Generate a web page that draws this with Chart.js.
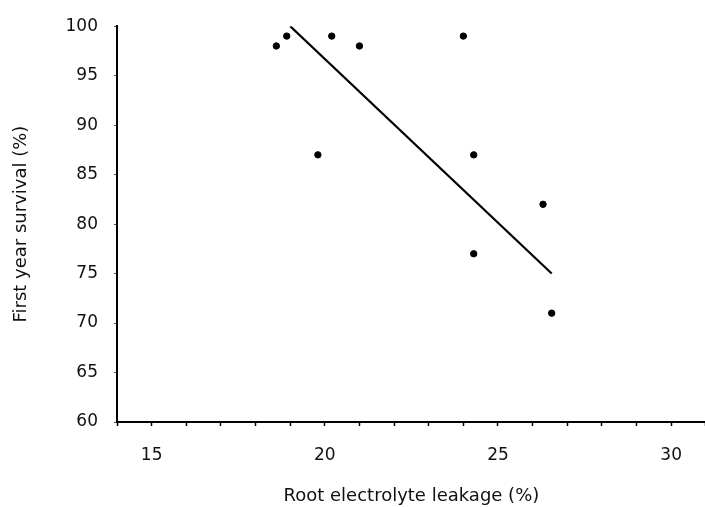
<!DOCTYPE html>
<html>
<head>
<meta charset="utf-8">
<script src="https://cdn.jsdelivr.net/npm/chart.js@4/dist/chart.umd.min.js"></script>
<style>
  html, body { margin: 0; padding: 0; background: #fff; overflow: hidden; }
  #wrap { width: 705px; height: 507px; overflow: hidden; }
</style>
</head>
<body>
<!-- canvas is a few px wider than the page so the x axis runs to the right edge -->
<div id="wrap"><canvas id="survival" width="710" height="507"></canvas></div>
<script>
// leakage (%) vs first year survival (%)
let leakage = [18.6, 18.9, 20.2, 21.0, 19.8, 24.0, 24.3, 24.3, 26.3, 26.55];
let survival = [98, 99, 99, 98, 87, 99, 87, 77, 82, 71];

// fitted regression line ends
let fitX = [19.0, 26.55];
let fitY = [100, 75];

let xTitle = "Root electrolyte leakage (%)";
let yTitle = "First year survival (%)";

function points(xs, ys) {
  return xs.map(function (x, i) { return {x: x, y: ys[i]}; });
}

Chart.defaults.font.family = "'DejaVu Sans', 'Liberation Sans', sans-serif";
Chart.defaults.color = "#111";

new Chart("survival", {
  type: "scatter",
  data: {
    datasets: [
      {
        data: points(leakage, survival),
        backgroundColor: "#000",
        borderColor: "#000",
        pointRadius: 3.2,
        pointHoverRadius: 3.2
      },
      {
        type: "line",
        data: points(fitX, fitY),
        borderColor: "#000",
        borderWidth: 2.2,
        pointRadius: 0,
        fill: false
      }
    ]
  },
  options: {
    responsive: false,
    animation: false,
    events: [],
    layout: { padding: { top: 24, right: 0, left: 0, bottom: 0 } },
    plugins: {
      legend: { display: false },
      tooltip: { enabled: false }
    },
    scales: {
      x: {
        type: "linear",
        min: 14,
        max: 31,
        afterFit: function (s) {
          s.height = 85;
          s.paddingLeft = 0;
          s.paddingRight = 0;
        },
        border: { display: true, color: "#000", width: 2 },
        grid: { drawOnChartArea: false, drawTicks: true, tickLength: 4, tickColor: "#000", tickWidth: 1.5 },
        ticks: {
          stepSize: 1,
          autoSkip: false,
          maxRotation: 0,
          padding: 19,
          font: { size: 17 },
          callback: function (v) { return v % 5 === 0 ? v : ""; }
        },
        title: { display: true, text: xTitle, font: { size: 18 }, padding: { top: 0, bottom: 0 } }
      },
      y: {
        min: 60,
        max: 100,
        afterFit: function (s) { s.width = 117; },
        border: { display: true, color: "#000", width: 2 },
        grid: { drawOnChartArea: false, drawTicks: true, tickLength: 3, tickColor: "#555", tickWidth: 1 },
        ticks: {
          stepSize: 5,
          padding: 16,
          font: { size: 17 }
        },
        title: { display: true, text: yTitle, font: { size: 18 }, padding: { top: 11, bottom: 0 } }
      }
    }
  }
});
</script>
</body>
</html>
